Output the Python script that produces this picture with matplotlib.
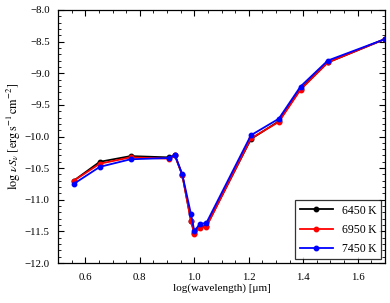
import matplotlib
matplotlib.use('Agg')
import matplotlib.pyplot as plt
from matplotlib.ticker import MultipleLocator

plt.rcParams['font.family'] = ['Liberation Serif', 'DejaVu Serif']
plt.rcParams['mathtext.fontset'] = 'stix'

logwl = [0.557, 0.653, 0.766, 0.907, 0.929, 0.956, 0.988, 1.0, 1.022, 1.044,
         1.208, 1.31, 1.39, 1.49, 1.7]

flux_6450 = [-10.70, -10.40, -10.31, -10.33, -10.30, -10.61, -11.33, -11.52, -11.42, -11.42,
             -10.04, -9.76, -9.25, -8.83, -8.46]
flux_6950 = [-10.70, -10.43, -10.33, -10.35, -10.30, -10.61, -11.34, -11.54, -11.44, -11.43,
             -10.03, -9.77, -9.26, -8.83, -8.46]
flux_7450 = [-10.75, -10.48, -10.36, -10.34, -10.29, -10.60, -11.23, -11.49, -11.38, -11.37,
             -9.98, -9.72, -9.21, -8.80, -8.46]

labels = ['6450\u2009K', '6950\u2009K', '7450\u2009K']
colors = ['black', 'red', 'blue']

fig = plt.figure(figsize=(3.9, 3.03), dpi=100)
ax = fig.add_axes([0.149, 0.132, 0.838, 0.835])

for y, lab, c in zip([flux_6450, flux_6950, flux_7450], labels, colors):
    ax.plot(logwl, y, '-o', color=c, lw=1.3, ms=3.2, label=lab)

ax.set_xlim(0.5, 1.7)
ax.set_ylim(-12.0, -8.0)
ax.xaxis.set_major_locator(MultipleLocator(0.2))
ax.xaxis.set_minor_locator(MultipleLocator(0.05))
ax.yaxis.set_major_locator(MultipleLocator(0.5))
ax.yaxis.set_minor_locator(MultipleLocator(0.1))
ax.tick_params(which='both', direction='in', top=True, right=True, labelsize=7.8)
ax.tick_params(which='major', length=4)
ax.tick_params(which='minor', length=2)
ax.tick_params(axis='x', pad=7)
ax.tick_params(axis='y', pad=6)
for s in ax.spines.values():
    s.set_linewidth(0.9)

ax.set_xlabel('log(wavelength) [\u03bcm]', fontsize=8, labelpad=1)
ax.set_ylabel(r'$\log\,\nu S_\nu\ [\mathrm{erg\,s^{-1}\,cm^{-2}}]$', fontsize=8.8, labelpad=1)

leg = ax.legend(loc='lower right', fontsize=8.5, frameon=True, fancybox=False,
                edgecolor='black', handlelength=2.8, labelspacing=0.6,
                borderaxespad=0.3)
leg.get_frame().set_linewidth(0.9)

fig.savefig('out.png', dpi=100)
